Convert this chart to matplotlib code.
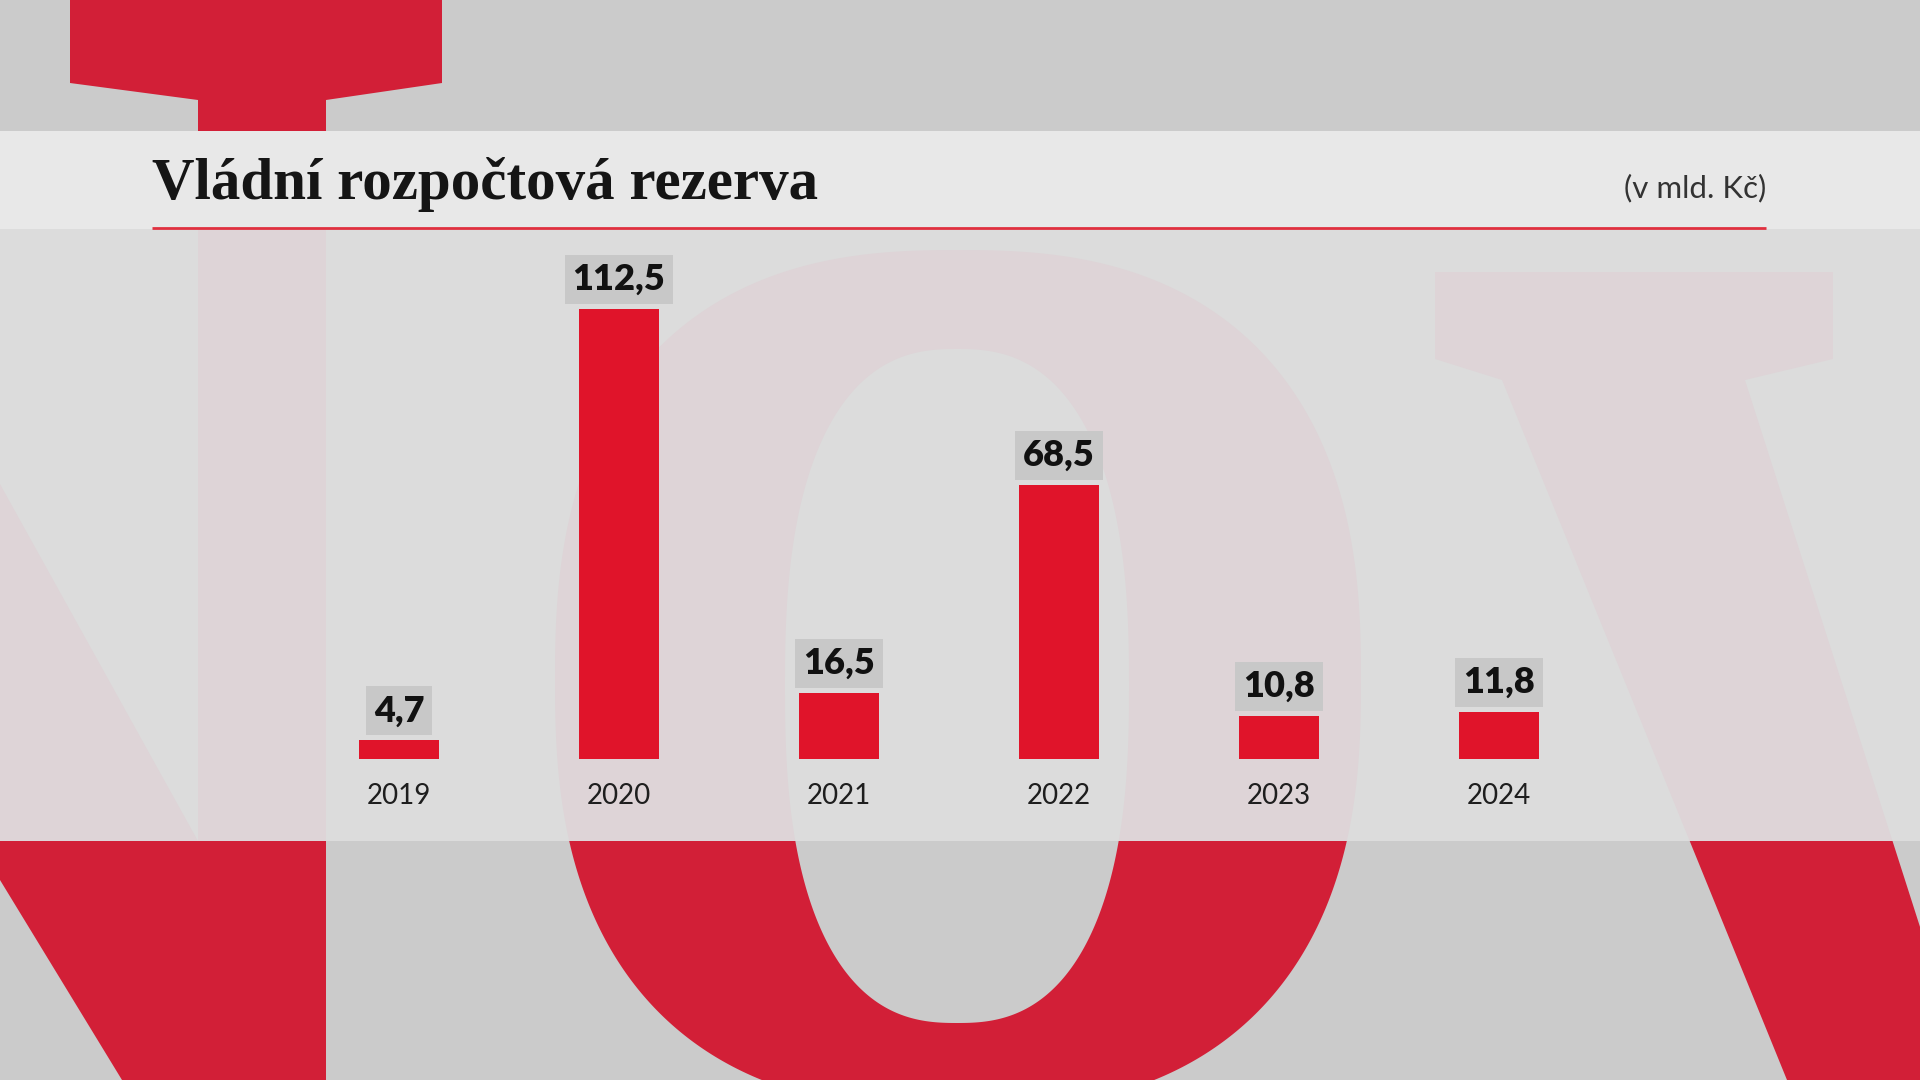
import numpy as np
import matplotlib
matplotlib.use('Agg')
import matplotlib.pyplot as plt
from matplotlib.patches import Polygon, Rectangle

# ---- data ----
years = ['2019', '2020', '2021', '2022', '2023', '2024']
values = [4.7, 112.5, 16.5, 68.5, 10.8, 11.8]
title = 'Vládní rozpočtová rezerva'
unit = '(v mld. Kč)'

W, H = 1920, 1080
BG = '#cbcbcb'
RED_BG = '#d21f37'
PANEL = '#dcdcdc'
FAINT = '#ded4d7'
BAND = '#e8e8e8'
BAR = '#e0142a'
BOX = '#c8c8c8'

fig = plt.figure(figsize=(19.2, 10.8), dpi=100)
fig.patch.set_facecolor(BG)
bg = fig.add_axes([0, 0, 1, 1])
bg.set_xlim(0, W)
bg.set_ylim(H, 0)
bg.axis('off')
bg.set_facecolor(BG)


def superellipse(xc, yc, a, b, n, m=600):
    t = np.linspace(0, 2 * np.pi, m)
    c, s = np.cos(t), np.sin(t)
    x = xc + a * np.sign(c) * np.abs(c) ** (2 / n)
    y = yc + b * np.sign(s) * np.abs(s) ** (2 / n)
    return np.column_stack([x, y])


N_poly = [(70, 0), (442, 0), (442, 83), (326, 100), (326, 1080), (122, 1080),
          (0, 880), (0, 484), (198, 841), (198, 100), (70, 83)]
V_poly = [(1435, 272), (1833, 272), (1833, 359), (1745, 380),
          (1745 + 0.32 * 700, 1080), (1787, 1080), (1502, 380), (1435, 359)]
O_out = superellipse(958, 680, 403, 430, 2.5)
O_in = superellipse(957, 686, 172, 337, 2.5)


def draw_letters(color, hole, z, clip=None):
    arts = []
    arts.append(bg.add_patch(Polygon(N_poly, closed=True, fc=color, ec='none', zorder=z)))
    arts.append(bg.add_patch(Polygon(V_poly, closed=True, fc=color, ec='none', zorder=z)))
    arts.append(bg.add_patch(Polygon(O_out, closed=True, fc=color, ec='none', zorder=z)))
    arts.append(bg.add_patch(Polygon(O_in, closed=True, fc=hole, ec='none', zorder=z + 0.1)))
    if clip is not None:
        for a in arts:
            a.set_clip_path(clip)


# layer 1: red letters on gray
draw_letters(RED_BG, BG, 1)
# layer 2: chart panel
panel = Rectangle((0, 229), W, 612, fc=PANEL, ec='none', zorder=2)
bg.add_patch(panel)
# layer 3: faint letters in panel
draw_letters(FAINT, PANEL, 3, clip=panel)
# layer 4: title band
bg.add_patch(Rectangle((0, 131), W, 98, fc=BAND, ec='none', zorder=4))

bg.text(152, 199, title, fontfamily='Liberation Serif', fontweight='bold',
        fontsize=42.5, va='baseline', ha='left', color='#151515', zorder=5)
bg.text(1766, 188, unit, fontfamily='Lato', fontsize=22.5, va='center', ha='right',
        color='#333333', zorder=5)
bg.plot([152, 1766], [228, 228], color='#e0303f', lw=2, zorder=5, solid_capstyle='butt')

# ---- chart axes ----
px_per_unit = 4.0
spacing = 220
ax_left = 399 - 1.5 * spacing
ax_w = 8 * spacing
ymax = 130
ax_h = ymax * px_per_unit
base = 759
ax = fig.add_axes([ax_left / W, (H - base) / H, ax_w / W, ax_h / H])
ax.set_zorder(10)
ax.patch.set_alpha(0)
ax.set_xlim(-1.5, 6.5)
ax.set_ylim(0, ymax)
x = np.arange(len(years))
ax.bar(x, values, width=80 / spacing, color=BAR, zorder=3)
for s in ax.spines.values():
    s.set_visible(False)
ax.set_yticks([])
ax.set_xticks(x, years)
ax.tick_params(axis='x', length=0, pad=17, labelsize=20, labelcolor='#1e1e1e')
for lab in ax.get_xticklabels():
    lab.set_fontfamily('Lato')

pad = 0.22
fs = 26
for xi, v in zip(x, values):
    ax.annotate(f'{v:.1f}'.replace('.', ','), xy=(xi, v), xytext=(0, 5 + pad * fs * 100 / 72),
                textcoords='offset pixels', ha='center', va='bottom',
                fontsize=fs, fontweight='heavy', fontfamily='Lato', color='#111111',
                bbox=dict(boxstyle=f'square,pad={pad}', fc=BOX, ec='none'),
                annotation_clip=False, zorder=5)

fig.savefig('out.png', dpi=100, facecolor=BG)
